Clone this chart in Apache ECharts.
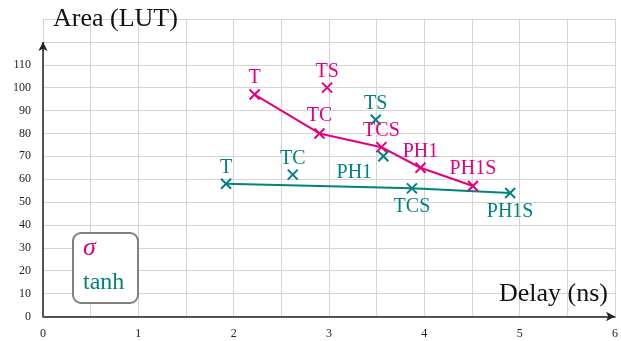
<!DOCTYPE html>
<html>
<head>
<meta charset="utf-8">
<script src="https://cdn.jsdelivr.net/npm/echarts@6/dist/echarts.min.js"></script>
<style>
  html, body { margin: 0; padding: 0; background: #fff; }
  #chart { width: 621px; height: 341px; }
</style>
</head>
<body>
<div id="chart"></div>
<script>
// Area vs. delay of the activation-function variants
const xTicks = [0, 1, 2, 3, 4, 5, 6];
const yTicks = [0, 10, 20, 30, 40, 50, 60, 70, 80, 90, 100, 110];

const sigmaNames = ['T', 'TC', 'TS', 'TCS', 'PH1', 'PH1S'];
const sigmaDelay = [2.22, 2.90, 2.98, 3.55, 3.96, 4.51];
const sigmaArea  = [97, 80, 100, 74, 65, 57];
const sigmaPath  = ['T', 'TC', 'TCS', 'PH1', 'PH1S'];

const tanhNames = ['T', 'TC', 'TS', 'PH1', 'TCS', 'PH1S'];
const tanhDelay = [1.92, 2.62, 3.49, 3.57, 3.87, 4.90];
const tanhArea  = [58, 62, 86, 70, 56, 54];
const tanhPath  = ['T', 'TCS', 'PH1S'];

const MAGENTA = '#e4007c';
const TEAL = '#00827f';
const SERIF = "'Liberation Serif', 'Times New Roman', serif";

// label offset (label centre relative to the marker), per point name
const sigmaLabelOffset = {
  T: [0, -17], TC: [0, -18], TS: [0, -16], TCS: [0, -16], PH1: [0, -16], PH1S: [0, -17]
};
const tanhLabelOffset = {
  T: [0, -16], TC: [0, -16], TS: [0, -16], PH1: [-29, 16], TCS: [0, 18], PH1S: [0, 19]
};

const CROSS = 'path://M0,0L10,10M10,0L0,10';

function points(names, xs, ys, offsets) {
  return names.map((n, i) => ({
    name: n,
    value: [xs[i], ys[i]],
    label: { offset: offsets[n] }
  }));
}
function path(order, names, xs, ys) {
  return order.map(n => {
    const i = names.indexOf(n);
    return [xs[i], ys[i]];
  });
}

function markerSeries(name, color, data) {
  return {
    name: name,
    type: 'scatter',
    symbol: CROSS,
    symbolSize: 10,
    itemStyle: { color: 'rgba(0,0,0,0)', borderColor: color, borderWidth: 2, opacity: 1 },
    label: {
      show: true,
      position: 'inside',
      formatter: p => p.name,
      color: color,
      opacity: 1,
      fontFamily: SERIF,
      fontSize: 20,
      align: 'center',
      verticalAlign: 'middle'
    },
    emphasis: { disabled: true },
    data: data,
    z: 4
  };
}
function lineSeries(name, color, data) {
  return {
    name: name,
    type: 'line',
    data: data,
    symbol: 'none',
    lineStyle: { color: color, width: 2 },
    silent: true,
    z: 3
  };
}

const chart = echarts.init(document.getElementById('chart'));
chart.setOption({
  animation: false,
  backgroundColor: '#fff',
  grid: { left: 43, right: 4, top: 19, bottom: 24.5, containLabel: false },
  xAxis: {
    type: 'value',
    min: 0, max: 6, interval: 0.5,
    axisLine: {
      show: true, symbol: ['none', 'arrow'], symbolSize: [7, 9],
      lineStyle: { color: '#222', width: 1.5 }
    },
    axisTick: { show: false },
    axisLabel: {
      margin: 11,
      fontFamily: SERIF, fontSize: 12, color: '#222',
      formatter: v => (xTicks.indexOf(v) >= 0 ? String(v) : '')
    },
    splitLine: { show: true, lineStyle: { color: '#d4d4d4', width: 1 } }
  },
  yAxis: {
    type: 'value',
    min: 0, max: 130, interval: 10,
    axisLine: { show: false },
    axisTick: { show: false },
    axisLabel: {
      margin: 12,
      fontFamily: SERIF, fontSize: 12, color: '#222',
      formatter: v => (yTicks.indexOf(v) >= 0 ? String(v) : '')
    },
    splitLine: { show: true, lineStyle: { color: '#d4d4d4', width: 1 } }
  },
  series: [
    // vertical axis with arrow head, drawn up to 120
    {
      type: 'line',
      data: [],
      silent: true,
      markLine: {
        silent: true,
        symbol: ['none', 'arrow'],
        symbolSize: [7, 9],
        label: { show: false },
        lineStyle: { color: '#222', width: 1.5, type: 'solid' },
        data: [[{ coord: [0, 0] }, { coord: [0, 120] }]]
      },
      z: 5
    },
    lineSeries('σ', MAGENTA, path(sigmaPath, sigmaNames, sigmaDelay, sigmaArea)),
    lineSeries('tanh', TEAL, path(tanhPath, tanhNames, tanhDelay, tanhArea)),
    markerSeries('σ', MAGENTA, points(sigmaNames, sigmaDelay, sigmaArea, sigmaLabelOffset)),
    markerSeries('tanh', TEAL, points(tanhNames, tanhDelay, tanhArea, tanhLabelOffset))
  ],
  graphic: [
    {
      type: 'text', left: 53, top: 6, z: 10,
      style: { text: 'Area (LUT)', font: '26px ' + SERIF, fill: '#111' }
    },
    {
      type: 'text', right: 13, top: 281, z: 10,
      style: { text: 'Delay (ns)', font: '26px ' + SERIF, fill: '#111' }
    },
    {
      type: 'group', left: 72, top: 232, z: 10,
      children: [
        {
          type: 'rect', z: 10,
          shape: { x: 0, y: 0, width: 65, height: 70, r: 8 },
          style: { fill: '#fff', stroke: '#808080', lineWidth: 2 }
        },
        {
          type: 'text', x: 10, y: 2, z: 11,
          style: { text: 'σ', font: 'italic 26px ' + SERIF, fill: MAGENTA }
        },
        {
          type: 'text', x: 10, y: 38, z: 11,
          style: { text: 'tanh', font: '24px ' + SERIF, fill: TEAL }
        }
      ]
    }
  ]
});
</script>
</body>
</html>
